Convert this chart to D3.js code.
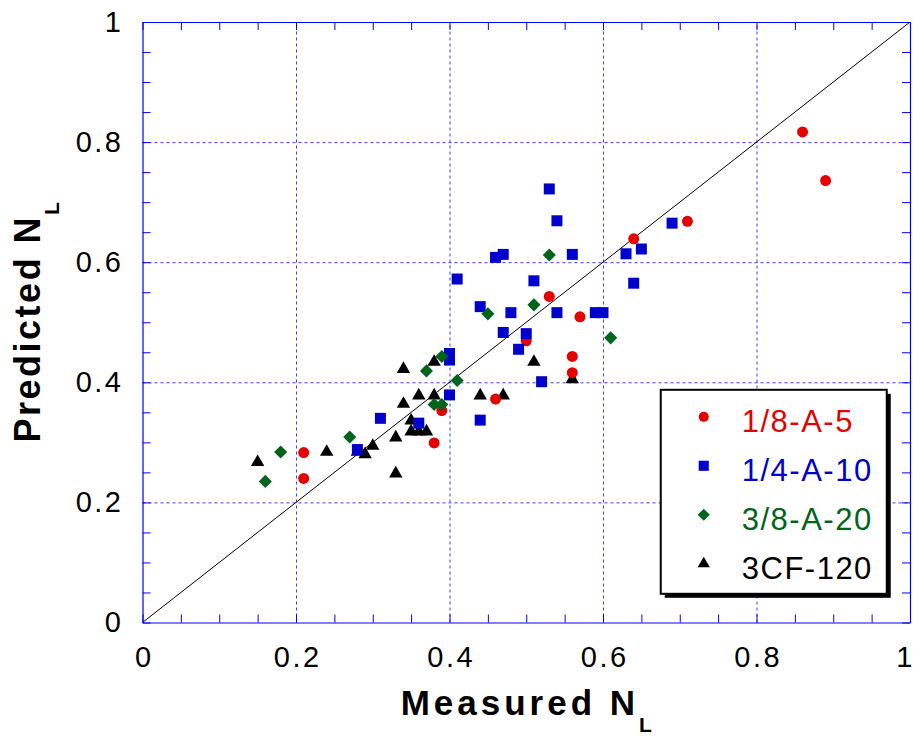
<!DOCTYPE html>
<meta charset="utf-8">
<script src="https://d3js.org/d3.v7.min.js"></script>
<style>
    body { margin: 0; background: #fff; }
    text { font-family: "Liberation Sans", Arial, sans-serif; }
</style>
<svg width="913" height="736"></svg>
<script>

    // series names, colours and markers
    const seriesNames = ["1/8-A-5", "1/4-A-10", "3/8-A-20", "3CF-120"];
    const seriesColors = ["#e60000", "#0000cc", "#00641a", "#000000"];

    // measured / predicted NL
    const red_measured = [0.21, 0.21, 0.38, 0.39, 0.46, 0.50, 0.53, 0.56, 0.56, 0.57, 0.64, 0.71, 0.86, 0.89];
    const red_predicted = [0.283, 0.240, 0.299, 0.353, 0.372, 0.469, 0.543, 0.443, 0.416, 0.509, 0.639, 0.668, 0.817, 0.736];

    const blue_measured = [0.28, 0.31, 0.36, 0.40, 0.40, 0.40, 0.41, 0.44, 0.44, 0.46, 0.47, 0.47, 0.48, 0.49,
        0.50, 0.51, 0.52, 0.53, 0.54, 0.54, 0.56, 0.59, 0.60, 0.63, 0.64, 0.65, 0.69];
    const blue_predicted = [0.288, 0.340, 0.332, 0.379, 0.437, 0.448, 0.572, 0.337, 0.526, 0.608, 0.613, 0.483, 0.516, 0.455,
        0.481, 0.569, 0.401, 0.722, 0.669, 0.516, 0.613, 0.516, 0.516, 0.614, 0.565, 0.622, 0.665];

    const green_measured = [0.16, 0.18, 0.27, 0.37, 0.38, 0.39, 0.39, 0.41, 0.45, 0.51, 0.53, 0.61];
    const green_predicted = [0.235, 0.284, 0.309, 0.419, 0.363, 0.363, 0.443, 0.403, 0.514, 0.529, 0.612, 0.474];

    const black_measured = [0.15, 0.24, 0.28, 0.29, 0.30, 0.33, 0.33, 0.34, 0.34, 0.35, 0.35, 0.36, 0.37,
        0.36, 0.38, 0.38, 0.44, 0.47, 0.51, 0.56];
    const black_predicted = [0.267, 0.284, 0.284, 0.280, 0.294, 0.308, 0.248, 0.364, 0.422, 0.336, 0.318, 0.318, 0.318,
        0.378, 0.378, 0.434, 0.378, 0.378, 0.434, 0.405];

    const tickValues = [0, 0.2, 0.4, 0.6, 0.8, 1];
    const tickLabels = ["0", "0.2", "0.4", "0.6", "0.8", "1"];

    const margin = {top: 22, right: 3, bottom: 113.5, left: 142.5},
        width = 913,
        height = 736;
    const w = width - margin.left - margin.right
    const h = height - margin.top - margin.bottom

    const xScale = d3.scaleLinear().domain([0, 1]).range([0, w])
    const yScale = d3.scaleLinear().domain([0, 1]).range([h, 0])

    const svg = d3.select('svg')
        .append('g')
        .attr('transform', 'translate(' + margin.left + ',' + margin.top + ')')

    // dotted grid
    svg.append('g')
        .attr('class', 'grid')
        .attr('transform', 'translate(0,' + h + ')')
        .call(d3.axisBottom(xScale).tickValues(tickValues.slice(1, -1)).tickSize(-h).tickFormat(''))
    svg.append('g')
        .attr('class', 'grid')
        .call(d3.axisLeft(yScale).tickValues(tickValues.slice(1, -1)).tickSize(-w).tickFormat(''))
    svg.selectAll('.grid .domain').remove()
    svg.selectAll('.grid line')
        .attr('stroke', '#3c3cff')
        .attr('stroke-width', 1)
        .attr('stroke-dasharray', '3,3')

    // 1:1 line
    svg.append('line')
        .attr('x1', xScale(0)).attr('y1', yScale(0))
        .attr('x2', xScale(1)).attr('y2', yScale(1))
        .attr('stroke', '#000')
        .attr('stroke-width', 1)

    const shapes = [d3.symbolCircle, d3.symbolSquare, d3.symbolSquare, d3.symbolTriangle]
    const sizes = [95, 121, 86, 78]
    const rotations = [0, 0, 45, 0]

    const series = [
        {measured: black_measured, predicted: black_predicted, k: 3},
        {measured: red_measured, predicted: red_predicted, k: 0},
        {measured: blue_measured, predicted: blue_predicted, k: 1},
        {measured: green_measured, predicted: green_predicted, k: 2}
    ]

    series.forEach(s => {
        const pts = s.measured.map((m, i) => ({x: m, y: s.predicted[i]}))
        svg.append('g')
            .selectAll('path')
            .data(pts)
            .enter().append('path')
            .attr('d', d3.symbol().type(shapes[s.k]).size(sizes[s.k]))
            .attr('transform', d => 'translate(' + xScale(d.x) + ',' + yScale(d.y) + ') rotate(' + rotations[s.k] + ')')
            .attr('fill', seriesColors[s.k])
    })

    // frame with inside ticks every 0.05
    const minorTicks = d3.range(21).map(i => i / 20)
    const axisStyle = g => {
        g.select('.domain').attr('stroke', '#0000ff').attr('stroke-width', 1.2)
        g.selectAll('.tick line').attr('stroke', '#0000ff')
    }
    svg.append('g').attr('transform', 'translate(0,' + h + ')')
        .call(d3.axisBottom(xScale).tickValues(minorTicks).tickSize(-8).tickSizeOuter(0).tickFormat(''))
        .call(axisStyle)
    svg.append('g')
        .call(d3.axisTop(xScale).tickValues(minorTicks).tickSize(-8).tickSizeOuter(0).tickFormat(''))
        .call(axisStyle)
    svg.append('g')
        .call(d3.axisLeft(yScale).tickValues(minorTicks).tickSize(-8).tickSizeOuter(0).tickFormat(''))
        .call(axisStyle)
    svg.append('g').attr('transform', 'translate(' + w + ',0)')
        .call(d3.axisRight(yScale).tickValues(minorTicks).tickSize(-8).tickSizeOuter(0).tickFormat(''))
        .call(axisStyle)

    // tick labels
    const xLab = svg.append('g').attr('transform', 'translate(0,' + h + ')')
        .call(d3.axisBottom(xScale).tickValues(tickValues).tickSize(0).tickPadding(24)
            .tickFormat((d, i) => tickLabels[i]))
    const yLab = svg.append('g')
        .call(d3.axisLeft(yScale).tickValues(tickValues).tickSize(0).tickPadding(19)
            .tickFormat((d, i) => tickLabels[i]))
    xLab.select('.domain').remove()
    yLab.select('.domain').remove()
    svg.selectAll('.tick text')
        .attr('font-family', '"Liberation Sans", Arial, sans-serif')
        .style('font-size', '29px')
        .style('letter-spacing', '2.5px')
        .attr('fill', '#000')
    xLab.selectAll('.tick text').attr('dx', '1.25px')
    // last label sits at the right edge: keep it inside the picture
    xLab.selectAll('.tick text').filter((d, i) => i === tickValues.length - 1)
        .attr('text-anchor', 'end')
        .attr('dx', '2px')
        .style('letter-spacing', '0px')

    // axis titles
    const xTitle = svg.append('text')
        .attr('x', w / 2)
        .attr('y', h + 92.5)
        .attr('text-anchor', 'middle')
        .style('font-size', '35px')
        .style('font-weight', 'bold')
        .style('letter-spacing', '4px')
    xTitle.append('tspan').text('Measured N')
    xTitle.append('tspan').text('L').attr('dy', 17).style('font-size', '21px').style('letter-spacing', '0px')

    const yTitle = svg.append('text')
        .attr('transform', 'translate(' + (40 - margin.left) + ',' + (h / 2) + ') rotate(-90)')
        .attr('text-anchor', 'middle')
        .style('font-size', '36px')
        .style('font-weight', 'bold')
        .style('letter-spacing', '2.5px')
    yTitle.append('tspan').text('Predicted N')
    yTitle.append('tspan').text('L').attr('dy', 19).style('font-size', '21px').style('letter-spacing', '0px')

    // legend
    const lx = xScale(0.7) - 19, ly = yScale(0.4) + 7.5
    const lw = 226, lh = 204
    const legend = svg.append('g').attr('transform', 'translate(' + lx + ',' + ly + ')')
    legend.append('rect')
        .attr('x', 4).attr('y', 4).attr('width', lw).attr('height', lh)
        .attr('fill', '#000')
    legend.append('rect')
        .attr('width', lw).attr('height', lh)
        .attr('fill', '#fff')
        .attr('stroke', '#000')
        .attr('stroke-width', 2)

    const rows = legend.selectAll('.row')
        .data(seriesNames)
        .enter().append('g')
        .attr('class', 'row')
        .attr('transform', (d, i) => 'translate(0,' + (27 + i * 49) + ')')
    rows.append('path')
        .attr('d', (d, i) => d3.symbol().type(shapes[i]).size(sizes[i] * 0.85)())
        .attr('transform', (d, i) => 'translate(43,0) rotate(' + rotations[i] + ')')
        .attr('fill', (d, i) => seriesColors[i])
    rows.append('text')
        .attr('x', 81)
        .attr('y', 15)
        .style('font-size', '31px')
        .style('letter-spacing', '1.5px')
        .attr('fill', (d, i) => seriesColors[i])
        .text(d => d)

</script>
